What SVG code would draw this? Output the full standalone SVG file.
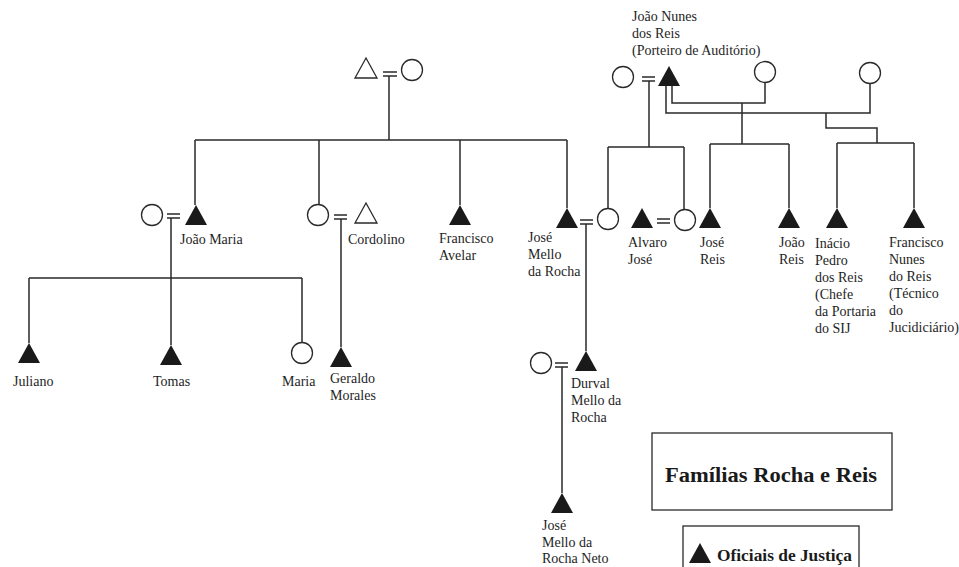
<svg xmlns="http://www.w3.org/2000/svg" xmlns:xlink="http://www.w3.org/1999/xlink" width="959" height="567" viewBox="0 0 959 567">
<style>
.ln{fill:none;stroke:#2a2a2a;stroke-width:1.5}
.f{fill:#1a1a1a;stroke:none}
.o{fill:#fff;stroke:#2a2a2a;stroke-width:1.3}
text{font-family:"Liberation Serif","Times New Roman",serif;font-size:14px;fill:#1e1e1e}
.b{font-weight:bold;fill:#1a1a1a}
</style>
<defs>
<path id="m" d="M0,0 L11,20 L-11,20 Z"/>
</defs>
<rect width="959" height="567" fill="#fff"/>
<g id="connectors" class="ln">
<path d="M383,72 H397 M383,76 H397 M389,76 V140 M195,140 H567 M195,140 V205 M319,140 V204 M460,140 V205 M567,140 V208"/>
<path d="M167,214 H180 M167,218 H180 M171,218 V345 M29,278 H302 M29,278 V343 M302,278 V342"/>
<path d="M334,215 H347 M334,219 H347 M341,219 V347"/>
<path d="M580,220 H593 M580,224 H593 M586,224 V351"/>
<path d="M555,363 H568 M555,367 H568 M562,367 V493"/>
<path d="M657,219 H670 M657,223 H670"/>
<path d="M642,77 H655 M642,81 H655 M649,81 V147 M608,147 H684 M608,147 V208 M684,147 V209"/>
<path d="M672,86 V103 H765 V83 M666,86 V113 H870 V84"/>
<path d="M742,103 V144 M710,144 H789 M710,144 V208 M789,144 V208"/>
<path d="M826,113 V128 H877 V143 M837,143 H914 M837,143 V208 M914,143 V208"/>
</g>
<g id="n-top-couple">
<path class="o" d="M366,58 L377,78 L355,78 Z"/>
<circle class="o" cx="412" cy="70" r="10.5"/>
</g>
<g id="n-joao-maria">
<circle class="o" cx="152" cy="215" r="10.5"/>
<use xlink:href="#m" class="f" x="196" y="205"/>
<text x="180" y="244">João Maria</text>
</g>
<g id="n-cordolino">
<circle class="o" cx="318" cy="215" r="10.5"/>
<path class="o" d="M366,203 L377,223 L355,223 Z"/>
<text x="348" y="244">Cordolino</text>
</g>
<g id="n-francisco-avelar">
<use xlink:href="#m" class="f" x="460" y="205"/>
<text x="439" y="243">Francisco</text>
<text x="439" y="260">Avelar</text>
</g>
<g id="n-jose-mello">
<use xlink:href="#m" class="f" x="567" y="208"/>
<circle class="o" cx="608" cy="219" r="10.5"/>
<text x="528" y="242">José</text>
<text x="528" y="259">Mello</text>
<text x="528" y="276">da Rocha</text>
</g>
<g id="n-alvaro">
<use xlink:href="#m" class="f" x="642" y="208"/>
<circle class="o" cx="685" cy="220" r="10.5"/>
<text x="628" y="247">Alvaro</text>
<text x="628" y="264">José</text>
</g>
<g id="n-joao-nunes">
<circle class="o" cx="623" cy="77" r="10.5"/>
<use xlink:href="#m" class="f" x="669" y="66"/>
<circle class="o" cx="765" cy="72" r="10.5"/>
<circle class="o" cx="870" cy="73" r="10.5"/>
<text x="632" y="21">João Nunes</text>
<text x="632" y="38">dos Reis</text>
<text x="632" y="55">(Porteiro de Auditório)</text>
</g>
<g id="n-jose-reis">
<use xlink:href="#m" class="f" x="710" y="208"/>
<text x="700" y="247">José</text>
<text x="700" y="264">Reis</text>
</g>
<g id="n-joao-reis">
<use xlink:href="#m" class="f" x="789" y="208"/>
<text x="779" y="247">João</text>
<text x="779" y="264">Reis</text>
</g>
<g id="n-inacio">
<use xlink:href="#m" class="f" x="837" y="208"/>
<text x="815" y="248">Inácio</text>
<text x="815" y="265">Pedro</text>
<text x="815" y="282">dos Reis</text>
<text x="815" y="299">(Chefe</text>
<text x="815" y="316">da Portaria</text>
<text x="815" y="333">do SIJ</text>
</g>
<g id="n-francisco-nunes">
<use xlink:href="#m" class="f" x="914" y="208"/>
<text x="889" y="247">Francisco</text>
<text x="889" y="264">Nunes</text>
<text x="889" y="281">do Reis</text>
<text x="889" y="298">(Técnico</text>
<text x="889" y="315">do</text>
<text x="889" y="332">Jucidiciário)</text>
</g>
<g id="n-juliano">
<use xlink:href="#m" class="f" x="29" y="343"/>
<text x="13" y="386">Juliano</text>
</g>
<g id="n-tomas">
<use xlink:href="#m" class="f" x="171" y="345"/>
<text x="153" y="386">Tomas</text>
</g>
<g id="n-maria">
<circle class="o" cx="302" cy="353" r="10.5"/>
<text x="282" y="386">Maria</text>
</g>
<g id="n-geraldo">
<use xlink:href="#m" class="f" x="341" y="347"/>
<text x="330" y="383">Geraldo</text>
<text x="330" y="400">Morales</text>
</g>
<g id="n-durval">
<circle class="o" cx="541" cy="363" r="10.5"/>
<use xlink:href="#m" class="f" x="586" y="351"/>
<text x="571" y="388">Durval</text>
<text x="571" y="405">Mello da</text>
<text x="571" y="422">Rocha</text>
</g>
<g id="n-neto">
<use xlink:href="#m" class="f" x="562" y="493"/>
<text x="542" y="530">José</text>
<text x="542" y="547">Mello da</text>
<text x="542" y="563">Rocha Neto</text>
</g>
<g id="legend-title">
<rect x="652" y="433" width="240" height="77" fill="none" stroke="#2a2a2a" stroke-width="1.3"/>
<text class="b" x="665" y="482" style="font-size:20px" textLength="212" lengthAdjust="spacingAndGlyphs">Famílias Rocha e Reis</text>
</g>
<g id="legend-key">
<rect x="683" y="526" width="176" height="50" fill="none" stroke="#2a2a2a" stroke-width="1.3"/>
<use xlink:href="#m" class="f" x="700" y="543"/>
<text class="b" x="717" y="561" style="font-size:16px" textLength="135" lengthAdjust="spacingAndGlyphs">Oficiais de Justiça</text>
</g>
</svg>
